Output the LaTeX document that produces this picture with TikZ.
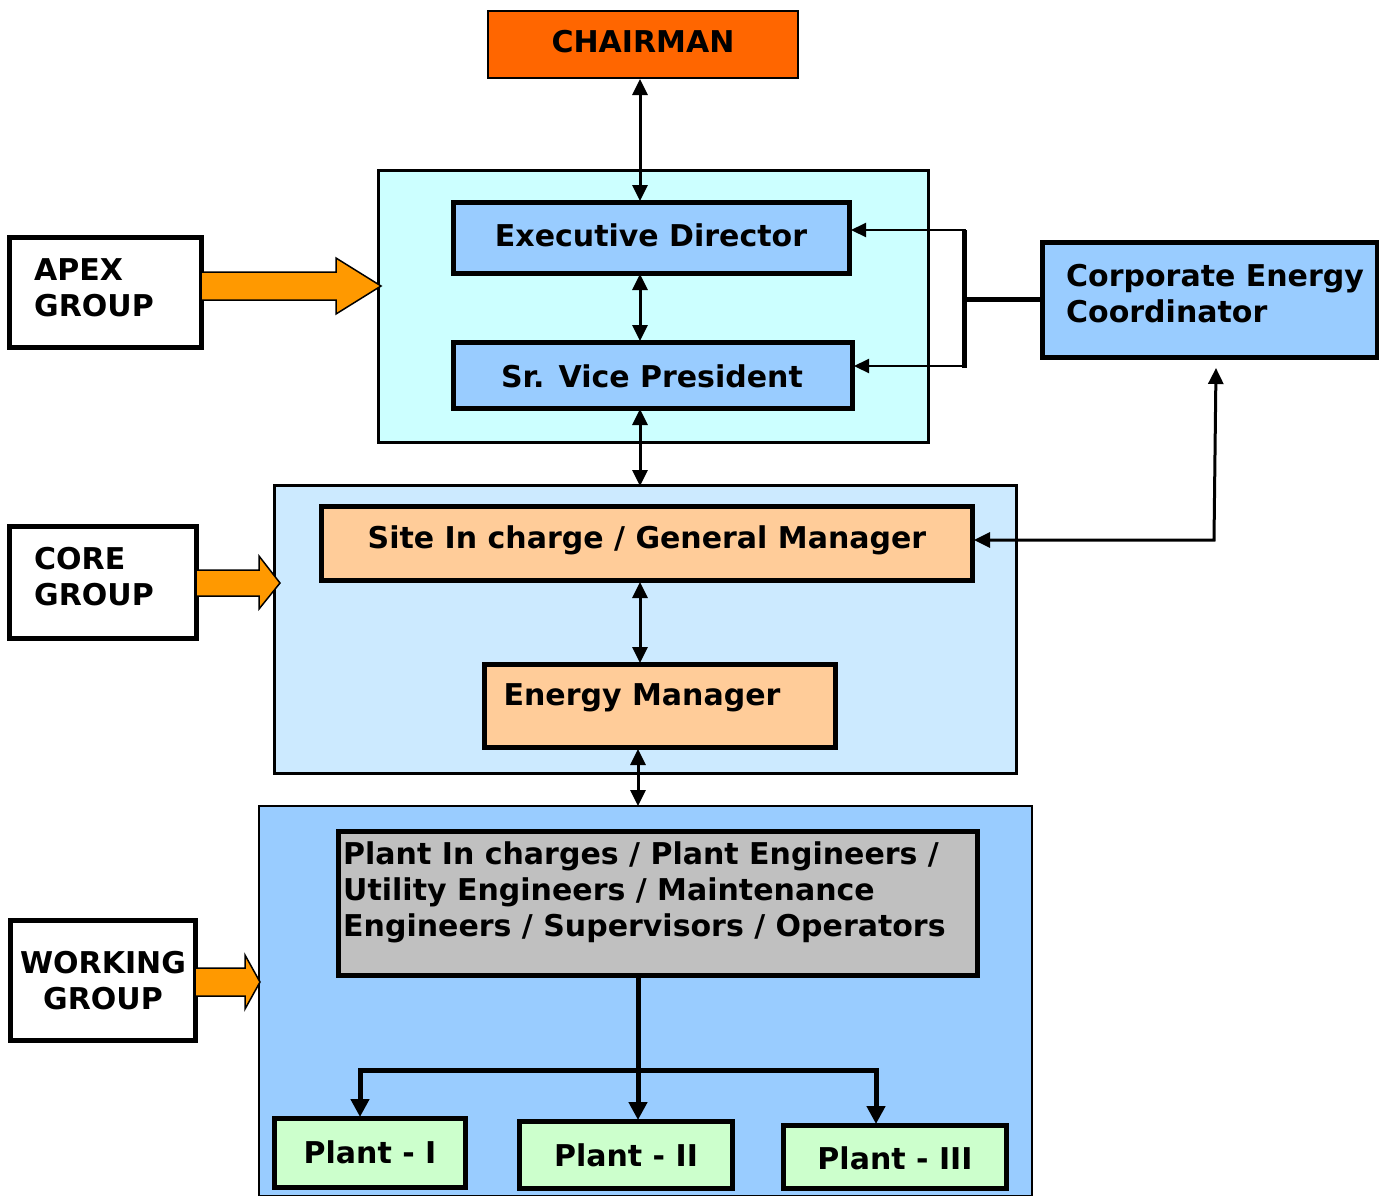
\documentclass[tikz,border=0pt]{standalone}
\usepackage{fontspec}
\setmainfont{DejaVu Sans}
\usetikzlibrary{arrows.meta}
\definecolor{chair}{HTML}{FF6600}
\definecolor{apexbg}{HTML}{CCFFFF}
\definecolor{corebg}{HTML}{CCEAFF}
\definecolor{blu}{HTML}{99CCFF}
\definecolor{peach}{HTML}{FFCC99}
\definecolor{gry}{HTML}{C0C0C0}
\definecolor{grn}{HTML}{CCFFCC}
\definecolor{orng}{HTML}{FF9900}
\tikzset{
  frame/.style={draw=black,line width=3pt},
  boxx/.style={draw=black,line width=5pt},
  txt/.style={font=\fontsize{30}{36}\selectfont\bfseries,inner sep=0pt},
  thin/.style={line width=3pt,{Triangle[length=16pt,width=15pt]}-{Triangle[length=16pt,width=15pt]}},
  thinone/.style={line width=2.2pt,-{Triangle[length=15pt,width=14pt]}},
  thick/.style={line width=5pt},
  bigarr/.style={fill=orng,draw=black,line width=1.5pt,line join=miter},
}
\begin{document}
\begin{tikzpicture}[x=1pt,y=-1pt]
\useasboundingbox (0,0) rectangle (1379,1195);
% outer frames
\draw[frame,fill=apexbg] (378,170) rectangle (928,442);
\draw[frame,fill=corebg] (274,485) rectangle (1016,773);
\draw[line width=2pt,fill=blu] (259,806) -- (259,1196) -- (1032,1196) -- (1032,806) -- cycle;
% boxes
\draw[line width=1.5pt,fill=chair] (488,11) rectangle (798,78);
\node[txt] (ch) at (643,42) {CHAIRMAN};
\draw[boxx,fill=blu] (453,202) rectangle (849,273);
\node[txt] (ed) at (651,235) {Executive Director};
\draw[boxx,fill=blu] (453,342) rectangle (852,408);
\node[txt] (svp) at (652,376) {Sr. Vice President};
\draw[boxx,fill=peach] (321,506) rectangle (972,580);
\node[txt] (site) at (647,540) {Site In charge / General Manager};
\draw[boxx,fill=peach] (484,664) rectangle (835,747);
\node[txt] (em) at (642,698) {Energy Manager};
\draw[boxx,fill=gry] (338,831) rectangle (977,975);
\node[txt,align=left,anchor=west] (pl) at (343,892) {Plant In charges / Plant Engineers /\\Utility Engineers / Maintenance\\Engineers / Supervisors / Operators};
\draw[boxx,fill=grn] (274,1118) rectangle (465,1187);
\node[txt] (p1) at (370,1152) {Plant - I};
\draw[boxx,fill=grn] (519,1121) rectangle (732,1188);
\node[txt] (p2) at (626,1155) {Plant - II};
\draw[boxx,fill=grn] (783,1125) rectangle (1006,1188);
\node[txt] (p3) at (895,1158) {Plant - III};
% group boxes
\draw[boxx,fill=white] (9,237) rectangle (201,347);
\node[txt,align=left,anchor=west] (apex) at (34,288) {APEX\\GROUP};
\draw[boxx,fill=white] (9,526) rectangle (196,638);
\node[txt,align=left,anchor=west] (core) at (34,577) {CORE\\GROUP};
\draw[boxx,fill=white] (10,920) rectangle (195,1040);
\node[txt,align=center] (work) at (103,981) {WORKING\\GROUP};
\draw[boxx,fill=blu] (1042,242) rectangle (1377,357);
\node[txt,align=left,anchor=west] (cec) at (1066,294) {Corporate Energy\\Coordinator};
% orange arrows
\draw[bigarr] (201,272) -- (336,272) -- (336,258) -- (381,286) -- (336,314) -- (336,300) -- (201,300) -- cycle;
\draw[bigarr] (196,570) -- (259,570) -- (259,556) -- (280,583) -- (259,609) -- (259,596) -- (196,596) -- cycle;
\draw[bigarr] (195,968) -- (245,968) -- (245,955) -- (260,982) -- (245,1009) -- (245,996) -- (195,996) -- cycle;
% vertical connectors
\draw[thin] (640,79) -- (640,201);
\draw[thin] (640,274) -- (640,341);
\draw[thin] (640,409) -- (640,486);
\draw[thin] (640,582) -- (640,663);
\draw[thin] (638,749) -- (638,806);
% CEC connectors
\coordinate (j) at (964,299);
\draw[thick] (1042,299) -- (j);
\draw[thick,line cap=rect] (964,232) -- (964,365);
\draw[thinone] (966,230) -- (851,230);
\draw[thinone] (964,366) -- (854,366);
\draw[thin] (1216,368) -- (1214,540) -- (974,540);
% plant tree
\draw[thick] (638,977) -- (638,1070);
\draw[thick] (360,1100) -- (360,1070) -- (876,1070) -- (876,1100);
\draw[line width=5pt,-{Triangle[length=18pt,width=18pt]}] (360,1090) -- (360,1117);
\draw[line width=5pt,-{Triangle[length=18pt,width=18pt]}] (638,1060) -- (638,1120);
\draw[line width=5pt,-{Triangle[length=18pt,width=18pt]}] (876,1090) -- (876,1124);
\end{tikzpicture}
\end{document}
